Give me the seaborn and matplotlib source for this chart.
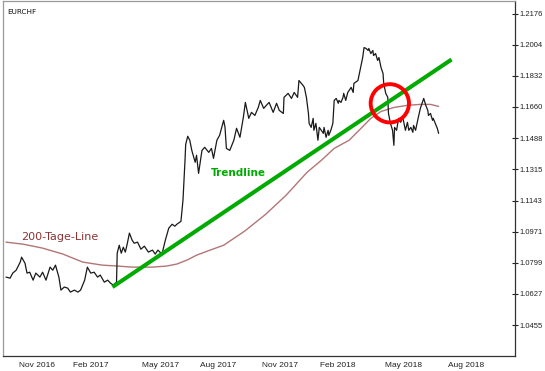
import pandas as pd
import matplotlib
matplotlib.use("Agg")
import matplotlib.pyplot as plt
import matplotlib.ticker as mticker
import seaborn as sns

# ── 데이터 ────────────────────────────────────────────────
START = pd.Timestamp("2016-11-01")

# EURCHF 종가 (시작일로부터 경과 일수, 가격)
PRICE_DAYS = [0, 6, 10, 15, 21, 23, 28, 31, 35, 40, 44, 50, 54, 59, 65, 69, 73, 78, 81, 86,
              91, 95, 101, 106, 110, 116, 120, 125, 130, 135, 139, 145, 150, 154, 158, 163,
              164, 167, 170, 173, 176, 179, 182, 186, 189, 194, 199, 204, 210, 216, 220, 224,
              230, 235, 240, 245, 249, 252, 258, 261, 264, 265, 268, 271, 274, 279, 281, 284,
              289, 293, 299, 303, 306, 311, 315, 321, 323, 325, 330, 336, 340, 345, 350, 353,
              358, 362, 367, 372, 375, 380, 384, 388, 394, 399, 403, 409, 410, 416, 421, 425,
              430, 432, 438, 440, 443, 446, 447, 450, 453, 454, 457, 460, 462, 465, 468, 469,
              472, 475, 476, 479, 482, 484, 487, 490, 491, 494, 497, 498, 501, 504, 509, 512,
              513, 519, 523, 526, 528, 531, 534, 535, 538, 541, 542, 545, 548, 550, 553, 556,
              557, 560, 563, 564, 567, 570, 572, 573, 576, 579, 582, 585, 586, 589, 592, 594,
              597, 600, 601, 604, 607, 608, 611, 614, 616, 619, 622, 623, 626, 629, 630, 633,
              636, 638]
PRICE_VALS = [1.0720, 1.0714, 1.0742, 1.0758, 1.0803, 1.0830, 1.0797, 1.0742, 1.0747, 1.0703,
              1.0742, 1.0720, 1.0747, 1.0703, 1.0775, 1.0758, 1.0786, 1.0720, 1.0648, 1.0665,
              1.0659, 1.0637, 1.0648, 1.0637, 1.0648, 1.0703, 1.0775, 1.0742, 1.0747, 1.0720,
              1.0731, 1.0692, 1.0703, 1.0687, 1.0676, 1.0692,
              1.0852, 1.0896, 1.0852, 1.0885, 1.0858, 1.0907, 1.0963, 1.0924, 1.0907, 1.0913,
              1.0874, 1.0891, 1.0858, 1.0869, 1.0847, 1.0869,
              1.0847, 1.0924, 1.0990, 1.1012, 1.1001, 1.1012, 1.1028, 1.1145, 1.1365, 1.1453,
              1.1498, 1.1476, 1.1420, 1.1354, 1.1393, 1.1293,
              1.1420, 1.1437, 1.1409, 1.1431, 1.1376, 1.1476, 1.1503, 1.1586, 1.1547, 1.1431,
              1.1420, 1.1476, 1.1542, 1.1492, 1.1602, 1.1685,
              1.1597, 1.1630, 1.1613, 1.1657, 1.1696, 1.1652, 1.1669, 1.1685, 1.1630, 1.1680,
              1.1641, 1.1624, 1.1713, 1.1735, 1.1707, 1.1740,
              1.1713, 1.1806, 1.1779, 1.1768, 1.1713, 1.1624, 1.1569, 1.1547, 1.1597, 1.1531,
              1.1569, 1.1476, 1.1547, 1.1531, 1.1514, 1.1547,
              1.1492, 1.1531, 1.1503, 1.1531, 1.1569, 1.1696, 1.1707, 1.1680, 1.1696, 1.1685,
              1.1713, 1.1735, 1.1696, 1.1740, 1.1768, 1.1740,
              1.1790, 1.1806, 1.1878, 1.1933, 1.1988, 1.1983, 1.1972, 1.1983, 1.1955, 1.1972,
              1.1944, 1.1955, 1.1917, 1.1933, 1.1878, 1.1845,
              1.1790, 1.1735, 1.1713, 1.1624, 1.1569, 1.1531, 1.1448, 1.1547, 1.1531, 1.1597,
              1.1575, 1.1602, 1.1586, 1.1531, 1.1575, 1.1531,
              1.1547, 1.1520, 1.1558, 1.1531, 1.1586, 1.1602, 1.1652, 1.1685, 1.1707, 1.1669,
              1.1641, 1.1613, 1.1624, 1.1586, 1.1597, 1.1569,
              1.1542, 1.1514]

# 200일 이동평균
MA_DAYS = [0, 25, 54, 84, 113, 142, 164, 186, 216, 237, 252, 267, 281, 301, 321, 352, 383,
           413, 444, 465, 484, 506, 525, 538, 553, 572, 592, 611, 626, 638]
MA_VALS = [1.0913, 1.0902, 1.0880, 1.0847, 1.0803, 1.0786, 1.0781, 1.0775, 1.0775, 1.0781,
           1.0792, 1.0814, 1.0841, 1.0869, 1.0896, 1.0974, 1.1067, 1.1172, 1.1299, 1.1365,
           1.1431, 1.1476, 1.1547, 1.1597, 1.1635, 1.1657, 1.1669, 1.1674, 1.1674, 1.1663]

# 추세선 / 돌파 지점
TREND_DAYS = [157, 657]
TREND_VALS = [1.0665, 1.1922]
BREAK_DAYS = [566]
BREAK_VALS = [1.1680]

Y_TICKS = [1.0455, 1.0627, 1.0799, 1.0971, 1.1143, 1.1315, 1.1488, 1.1660, 1.1832,
           1.2004, 1.2176]
MONTH_TICKS = ["2016-11-01", "2017-02-01", "2017-05-01", "2017-08-01", "2017-11-01",
               "2018-02-01", "2018-05-01", "2018-08-01"]
LABEL_DAYS = [45, 125, 228, 312, 404, 489, 586, 678]
LABEL_TEXT = ["Nov 2016", "Feb 2017", "May 2017", "Aug 2017", "Nov 2017", "Feb 2018",
              "May 2018", "Aug 2018"]
X_RANGE_DAYS = [-4.4, 750.6]
Y_RANGE = [1.0284, 1.2248]


def to_dates(days):
    return START + pd.to_timedelta(days, unit="D")


price_df = pd.DataFrame({"date": to_dates(PRICE_DAYS), "price": PRICE_VALS})
ma_df = pd.DataFrame({"date": to_dates(MA_DAYS), "price": MA_VALS})
trend_df = pd.DataFrame({"date": to_dates(TREND_DAYS), "price": TREND_VALS})
break_df = pd.DataFrame({"date": to_dates(BREAK_DAYS), "price": BREAK_VALS})

# ── 스타일 ────────────────────────────────────────────────
sns.set_style("white")
plt.rcParams["font.family"] = ["DejaVu Sans"]

fig = plt.figure(figsize=(5.45, 3.71), dpi=100)
ax = fig.add_axes([3 / 545, 15 / 371, 512 / 545, 355.5 / 371])

sns.lineplot(data=ma_df, x="date", y="price", color="#b27676", lw=1.0,
             estimator=None, ax=ax)
sns.lineplot(data=price_df, x="date", y="price", color="#1a1a1a", lw=0.9,
             estimator=None, ax=ax)
sns.lineplot(data=trend_df, x="date", y="price", color="#00aa00", lw=2.9,
             estimator=None, ax=ax, solid_capstyle="butt")
sns.scatterplot(data=break_df, x="date", y="price", s=760, marker="o",
                facecolor="none", edgecolor="#ff0000", linewidth=2.8, ax=ax,
                zorder=5)

ax.set_xlim(to_dates(X_RANGE_DAYS))
ax.set_ylim(Y_RANGE)
ax.set_xlabel("")
ax.set_ylabel("")

# 오른쪽 y축
ax.yaxis.tick_right()
ax.set_yticks(Y_TICKS)
ax.yaxis.set_major_formatter(mticker.FormatStrFormatter("%.4f"))
ax.tick_params(axis="y", direction="inout", length=4, width=0.8, pad=1.5,
               labelsize=5.5, colors="#222222")
for lab in ax.get_yticklabels():
    lab.set_family("Liberation Sans")

# x축: 구분 눈금 + 월 라벨
ax.set_xticks(pd.to_datetime(MONTH_TICKS))
ax.set_xticklabels([""] * len(MONTH_TICKS))
ax.set_xticks(to_dates(LABEL_DAYS), minor=True)
ax.set_xticklabels(LABEL_TEXT, minor=True, family="Liberation Sans")
ax.tick_params(axis="x", which="major", direction="out", length=4, width=0.8)
ax.tick_params(axis="x", which="minor", length=0, pad=4, labelsize=6,
               labelcolor="#222222")

for side in ["left", "top"]:
    ax.spines[side].set_color("#999999")
    ax.spines[side].set_linewidth(0.9)
for side in ["right", "bottom"]:
    ax.spines[side].set_color("#333333")
    ax.spines[side].set_linewidth(0.9)

# 텍스트 라벨
ax.text(0.008, 0.969, "EURCHF", transform=ax.transAxes, fontsize=5.2,
        va="center", ha="left", color="#111111")
ax.text(to_dates([342])[0], 1.1293, "Trendline", color="#00aa00", fontsize=7.5,
        fontweight="bold", ha="center", va="center")
ax.text(to_dates([79])[0], 1.0940, "200-Tage-Line", color="#8c3434", fontsize=8,
        ha="center", va="center")

fig.savefig("out.png", dpi=100)
